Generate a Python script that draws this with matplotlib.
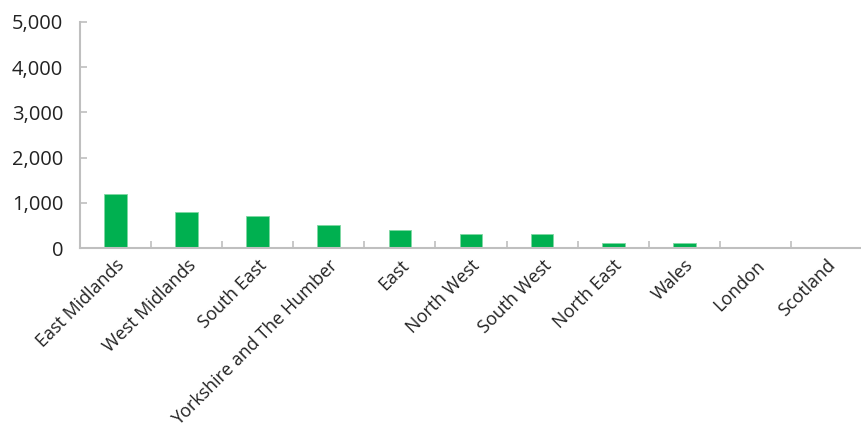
import matplotlib
matplotlib.use("Agg")
import matplotlib.pyplot as plt
from matplotlib.ticker import FuncFormatter

categories = ["East Midlands", "West Midlands", "South East", "Yorkshire and The Humber",
              "East", "North West", "South West", "North East", "Wales", "London", "Scotland"]
values = [1200, 800, 700, 500, 400, 300, 300, 100, 100, 0, 0]

plt.rcParams['font.family'] = ['Open Sans', 'DejaVu Sans']
fig = plt.figure(figsize=(8.62, 4.33), dpi=100)
ax = fig.add_axes([80/862, 1-248/433, (862-80)/862, (248-22)/433])

x = range(len(categories))
ax.bar(x, values, width=0.32, color="#00B050", edgecolor="#7FD8A3", linewidth=0.6, zorder=2)
ax.set_xlim(-0.5, len(categories)-0.5)
ax.set_ylim(0, 5000)
ax.set_yticks(range(0, 5001, 1000))
ax.yaxis.set_major_formatter(FuncFormatter(lambda v, p: f"{int(v):,}"))
ax.set_xticks([i + 0.5 for i in range(len(categories))])
ax.set_xticklabels([])
ax.set_xticks(list(x), minor=True)
ax.set_xticklabels(categories, minor=True, rotation=45, ha="right", rotation_mode="anchor", fontsize=13, color="#222222")
ax.tick_params(axis="x", which="minor", length=0, pad=6)
ax.tick_params(axis="x", which="major", direction="in", length=5, color="#BFBFBF", width=1.2)
ax.tick_params(axis="y", direction="in", length=5, color="#BFBFBF", width=1.2, labelsize=14.5, labelcolor="#222222", pad=12)
for s in ["top", "right"]:
    ax.spines[s].set_visible(False)
for s in ["left", "bottom"]:
    ax.spines[s].set_color("#BFBFBF")
    ax.spines[s].set_linewidth(1.5)

fig.savefig("out.png", dpi=100)
